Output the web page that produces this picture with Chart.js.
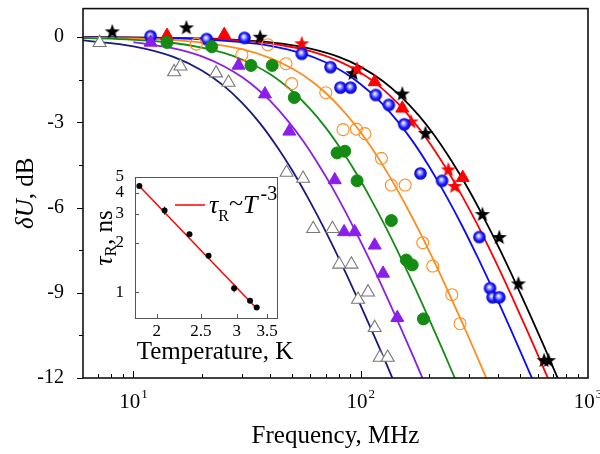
<!DOCTYPE html>
<html><head><meta charset="utf-8">
<script src="https://cdn.jsdelivr.net/npm/chart.js@4.4.1/dist/chart.umd.min.js"></script>
<style>
html,body{margin:0;padding:0;background:#fff;}
#wrap{position:relative;width:600px;height:454px;background:#fff;}
canvas{position:absolute;left:0;top:0;}
</style></head><body>
<div id="wrap"><canvas id="main" width="600" height="454"></canvas><canvas id="inset" width="600" height="454"></canvas></div>
<script>
// ---------- main chart data (frequency MHz, dB) ----------
const xTickDecades = [10, 100, 1000];
const xTickExps = ['1', '2', '3'];
const yTickValues = [-12, -9, -6, -3, 0];

const navyCurveF = [6, 10, 15, 20, 25, 30, 36, 43, 50, 60, 70, 85, 100, 115, 130, 139.5];
const navyCurveDb = [-0.12, -0.33, -0.70, -1.18, -1.72, -2.31, -3.03, -3.88, -4.70, -5.81, -6.83, -8.22, -9.45, -10.54, -11.52, -12.1];
const purpleCurveF = [10, 15, 20, 25, 30, 35, 40, 48, 56, 65, 75, 90, 110, 130, 150, 170, 188];
const purpleCurveDb = [-0.18, -0.40, -0.68, -1.03, -1.41, -1.82, -2.25, -2.97, -3.68, -4.47, -5.30, -6.48, -7.88, -9.13, -10.24, -11.23, -12.05];
const greenCurveF = [6, 10, 15, 20, 25, 30, 40, 50, 60, 70, 80, 95, 110, 130, 150, 175, 200, 230, 261];
const greenCurveDb = [-0.03, -0.10, -0.21, -0.37, -0.56, -0.79, -1.31, -1.91, -2.54, -3.18, -3.83, -4.76, -5.65, -6.75, -7.76, -8.90, -9.93, -11.03, -12.05];
const orangeCurveF = [6, 10, 15, 20, 30, 40, 50, 60, 70, 80, 92, 105, 120, 140, 160, 185, 210, 240, 280, 320, 359];
const orangeCurveDb = [-0.02, -0.05, -0.11, -0.20, -0.43, -0.74, -1.11, -1.52, -1.96, -2.42, -2.98, -3.59, -4.28, -5.17, -6.01, -6.98, -7.88, -8.88, -10.06, -11.12, -12.05];
const blueCurveF = [6, 20, 30, 40, 55, 70, 85, 100, 120, 145, 170, 200, 240, 280, 330, 390, 460, 530, 570];
const blueCurveDb = [-0.01, -0.08, -0.18, -0.31, -0.57, -0.89, -1.26, -1.66, -2.22, -2.96, -3.69, -4.56, -5.65, -6.66, -7.82, -9.06, -10.34, -11.47, -12.05];
const redCurveF = [6, 20, 30, 45, 60, 80, 100, 120, 145, 170, 200, 240, 280, 330, 390, 460, 540, 610, 670];
const redCurveDb = [-0.01, -0.06, -0.13, -0.29, -0.50, -0.85, -1.26, -1.71, -2.32, -2.95, -3.70, -4.68, -5.61, -6.68, -7.86, -9.09, -10.33, -11.30, -12.05];
const blackCurveF = [6, 20, 30, 45, 60, 80, 100, 125, 150, 180, 210, 250, 300, 350, 410, 480, 560, 640, 740];
const blackCurveDb = [0.0, -0.05, -0.11, -0.23, -0.41, -0.70, -1.05, -1.55, -2.09, -2.76, -3.44, -4.34, -5.40, -6.40, -7.49, -8.65, -9.83, -10.88, -12.05];

const openTriF = [7.1, 15.1, 16.1, 23.1, 26.2, 47.2, 55.8, 61.8, 75.1, 80.4, 91, 97.3, 107.7, 115.2, 121.2, 131.4];
const openTriDb = [-0.2, -1.23, -1.03, -1.27, -1.6, -4.77, -4.98, -6.75, -6.75, -8.0, -8.0, -9.24, -8.98, -10.23, -11.28, -11.28];
const purpleTriF = [11.9, 29.0, 37.9, 48.5, 76.9, 84.5, 94.1, 115.2, 125.4, 144.9];
const purpleTriDb = [-0.19, -1.0, -2.01, -3.32, -5.03, -6.86, -6.86, -7.33, -8.32, -9.88];
const greenDotF = [14.05, 22.1, 32.9, 40.8, 51.0, 78.7, 85.1, 96.4, 136.4, 158.7, 168.5, 188.8];
const greenDotDb = [-0.19, -0.34, -1.0, -1.0, -2.13, -4.08, -4.02, -5.06, -6.46, -7.85, -8.02, -9.92];
const orangeRingF = [18.9, 30.0, 39.0, 46.9, 49.7, 70.2, 83.6, 95.7, 104.4, 123.3, 136.4, 156.9, 187.5, 207.5, 251.5, 273.5];
const orangeRingDb = [-0.25, -0.63, -0.27, -0.94, -1.64, -1.96, -3.26, -3.24, -3.4, -4.27, -5.21, -5.21, -7.24, -8.06, -9.07, -10.09];
const blueBallF = [11.9, 21.0, 30.8, 55.0, 73.6, 81.4, 90.2, 116.4, 133.0, 155.4, 183.2, 228, 332.6, 370.6, 380.3, 407];
const blueBallDb = [0.03, -0.07, -0.03, -0.59, -1.06, -1.78, -1.78, -2.04, -2.39, -3.07, -4.8, -5.06, -7.04, -8.84, -9.16, -9.16];
const redTriF = [14.05, 25.1, 115.2, 152.4, 281];
const redTriDb = [0.05, 0.08, -1.58, -2.51, -4.95];
const redStarF = [55.0, 96.4, 166.6, 243, 259];
const redStarDb = [-0.22, -1.11, -2.97, -4.66, -5.24];
const blackStarF = [8.07, 17.1, 36.1, 92.5, 152.4, 192.7, 343, 407, 494, 641, 670];
const blackStarDb = [0.2, 0.34, 0.01, -1.27, -1.99, -3.38, -6.23, -7.04, -8.67, -11.37, -11.37];

// ---------- inset data (temperature K, tau_R ns) ----------
const insetXTicks = [2, 2.5, 3, 3.5];
const insetYTicks = [1, 2, 3, 4, 5];
const tempK = [1.83, 2.08, 2.36, 2.60, 2.96, 3.21, 3.32];
const tauNs = [4.41, 3.13, 2.25, 1.67, 1.06, 0.89, 0.81];
const tauErr = [0.05, 0.18, 0.06, 0.04, 0.06, 0.02, 0.02];
const fitT = [1.82, 3.32];
const fitTau = [4.47, 0.80];

const SERIF = '"Liberation Serif", "Times New Roman", serif';
const xy = (F, D) => F.map((f, i) => ({ x: f, y: D[i] }));

function makeStar(color, R, r) {
  const s = Math.ceil(R * 2 + 2);
  const c = document.createElement('canvas'); c.width = s; c.height = s;
  const g = c.getContext('2d'); g.fillStyle = color; g.beginPath();
  for (let i = 0; i < 10; i++) {
    const rad = (i % 2) ? r : R; const a = -Math.PI / 2 + i * Math.PI / 5;
    const px = s / 2 + rad * Math.cos(a), py = s / 2 + 0.6 + rad * Math.sin(a);
    if (i) g.lineTo(px, py); else g.moveTo(px, py);
  }
  g.closePath(); g.fill(); return c;
}
function makeBall(R) {
  const s = Math.ceil(R * 2 + 2);
  const c = document.createElement('canvas'); c.width = s; c.height = s;
  const g = c.getContext('2d');
  const cx = s / 2, cy = s / 2;
  const grd = g.createRadialGradient(cx - 1, cy - 1.5, 0.3, cx, cy, R);
  grd.addColorStop(0, '#ffffff'); grd.addColorStop(0.3, '#9a9aff');
  grd.addColorStop(0.62, '#2020ff'); grd.addColorStop(1, '#0000d0');
  g.fillStyle = grd; g.beginPath(); g.arc(cx, cy, R, 0, Math.PI * 2); g.fill();
  return c;
}
const blackStarImg = makeStar('#000000', 8, 3.3);
const redStarImg = makeStar('#ff0000', 8, 3.3);
const ballImg = makeBall(6.3);

function runsWidth(ctx, runs) { let w = 0; for (const r of runs) { ctx.font = r.font; w += ctx.measureText(r.text).width + (r.gap || 0); } return w; }
function drawRuns(ctx, x, y, runs, align) {
  const w = runsWidth(ctx, runs);
  let cx = align === 'center' ? x - w / 2 : (align === 'right' ? x - w : x);
  ctx.textBaseline = 'alphabetic'; ctx.textAlign = 'left';
  for (const r of runs) { ctx.font = r.font; cx += (r.gap || 0); ctx.fillText(r.text, cx, y + (r.dy || 0)); cx += ctx.measureText(r.text).width; }
}
function noPad(s) { s.paddingTop = 0; s.paddingBottom = 0; s.paddingLeft = 0; s.paddingRight = 0; }

const curve = (F, D, color) => ({ data: xy(F, D), showLine: true, borderColor: color, borderWidth: 1.8, pointRadius: 0, fill: false, cubicInterpolationMode: 'monotone', order: 2 });
const marks = (F, D, opts) => Object.assign({ data: xy(F, D), showLine: false, order: 1 }, opts);

const mainDecor = {
  id: 'mainDecor',
  afterDraw(chart) {
    const ctx = chart.ctx, a = chart.chartArea, xs = chart.scales.x, ys = chart.scales.y;
    ctx.save();
    ctx.strokeStyle = '#000'; ctx.lineWidth = 1;
    for (let k = 0; k < 3; k++) {
      const base = Math.pow(10, k);
      for (let m = 1; m <= 9; m++) {
        const v = m * base;
        if (v <= 6 || v > 1000) continue;
        const px = Math.round(xs.getPixelForValue(v)) + 0.5;
        const len = (m === 1) ? 7 : 4;
        ctx.beginPath(); ctx.moveTo(px, a.bottom); ctx.lineTo(px, a.bottom - len); ctx.stroke();
      }
    }
    for (const v of yTickValues) { const py = Math.round(ys.getPixelForValue(v)) + 0.5; ctx.beginPath(); ctx.moveTo(a.left, py); ctx.lineTo(a.left - 6, py); ctx.stroke(); }
    for (const v of [-10.5, -7.5, -4.5, -1.5]) { const py = Math.round(ys.getPixelForValue(v)) + 0.5; ctx.beginPath(); ctx.moveTo(a.left, py); ctx.lineTo(a.left - 4, py); ctx.stroke(); }
    ctx.lineWidth = 1.6; ctx.strokeStyle = '#111';
    ctx.strokeRect(a.left, a.top, a.right - a.left, a.bottom - a.top);
    ctx.fillStyle = '#000';
    xTickDecades.forEach((v, i) => {
      const px = xs.getPixelForValue(v);
      drawRuns(ctx, px, 408, [{ text: '10', font: '21px ' + SERIF }, { text: xTickExps[i], font: '13px ' + SERIF, dy: -10, gap: 1 }], 'center');
    });
    drawRuns(ctx, (a.left + a.right) / 2, 443, [{ text: 'Frequency, MHz', font: '25px ' + SERIF }], 'center');
    ctx.save(); ctx.translate(33, (a.top + a.bottom) / 2); ctx.rotate(-Math.PI / 2);
    drawRuns(ctx, 0, 0, [{ text: '\u03B4U', font: 'italic 25px ' + SERIF }, { text: ', dB', font: '25px ' + SERIF }], 'center');
    ctx.restore();
    ctx.restore();
  }
};

new Chart(document.getElementById('main'), {
  type: 'scatter',
  data: {
    datasets: [
      curve(navyCurveF, navyCurveDb, '#191982'),
      curve(purpleCurveF, purpleCurveDb, '#8b1ee8'),
      curve(greenCurveF, greenCurveDb, '#148c14'),
      curve(orangeCurveF, orangeCurveDb, '#ff8c1e'),
      curve(blueCurveF, blueCurveDb, '#0a0aff'),
      curve(redCurveF, redCurveDb, '#ff0000'),
      curve(blackCurveF, blackCurveDb, '#000000'),
      marks(openTriF, openTriDb, { pointStyle: 'triangle', pointRadius: 7.5, backgroundColor: '#ffffff', borderColor: '#777777', borderWidth: 1.1 }),
      marks(purpleTriF, purpleTriDb, { pointStyle: 'triangle', pointRadius: 7.5, backgroundColor: '#8b1ee8', borderColor: '#8b1ee8', borderWidth: 1 }),
      marks(greenDotF, greenDotDb, { pointStyle: 'circle', pointRadius: 6, backgroundColor: '#148c14', borderColor: '#148c14', borderWidth: 1 }),
      marks(orangeRingF, orangeRingDb, { pointStyle: 'circle', pointRadius: 6, backgroundColor: 'rgba(255,255,255,0)', borderColor: '#ff8c1e', borderWidth: 1.1 }),
      marks(blueBallF, blueBallDb, { pointStyle: ballImg, pointRadius: 7 }),
      marks(redTriF, redTriDb, { pointStyle: 'triangle', pointRadius: 7.5, backgroundColor: '#ff0000', borderColor: '#ff0000', borderWidth: 1 }),
      marks(redStarF, redStarDb, { pointStyle: redStarImg, pointRadius: 7 }),
      marks(blackStarF, blackStarDb, { pointStyle: blackStarImg, pointRadius: 7 })
    ]
  },
  options: {
    responsive: false, animation: false, devicePixelRatio: 1, events: [],
    layout: { padding: { top: 4, right: 12, left: 0, bottom: 0 } },
    plugins: { legend: { display: false }, tooltip: { enabled: false } },
    scales: {
      x: { type: 'logarithmic', min: 6, max: 1000, grid: { display: false }, border: { display: false }, ticks: { display: false }, afterFit(s) { s.height = 76; noPad(s); } },
      y: { type: 'linear', min: -12, max: 1, grid: { display: false }, border: { display: false },
        ticks: { color: '#000', font: { family: SERIF, size: 20 }, padding: 11 },
        afterBuildTicks(s) { s.ticks = yTickValues.map(v => ({ value: v })); },
        afterFit(s) { s.width = 83; noPad(s); } }
    }
  },
  plugins: [mainDecor]
});

const insetDecor = {
  id: 'insetDecor',
  beforeDatasetsDraw(chart) {
    const ctx = chart.ctx, xs = chart.scales.x, ys = chart.scales.y;
    ctx.save(); ctx.strokeStyle = '#222'; ctx.lineWidth = 1;
    tempK.forEach((t, i) => {
      const px = xs.getPixelForValue(t);
      const y1 = ys.getPixelForValue(tauNs[i] - tauErr[i]), y2 = ys.getPixelForValue(tauNs[i] + tauErr[i]);
      ctx.beginPath(); ctx.moveTo(px, y1); ctx.lineTo(px, y2); ctx.stroke();
    });
    ctx.restore();
  },
  afterDraw(chart) {
    const ctx = chart.ctx, a = chart.chartArea, xs = chart.scales.x, ys = chart.scales.y;
    ctx.save();
    ctx.strokeStyle = '#555'; ctx.lineWidth = 1;
    for (const v of insetXTicks) { const px = Math.round(xs.getPixelForValue(v)) + 0.5; ctx.beginPath(); ctx.moveTo(px, a.bottom); ctx.lineTo(px, a.bottom - 4); ctx.stroke(); }
    for (const v of insetYTicks) { const py = Math.round(ys.getPixelForValue(v)) + 0.5; ctx.beginPath(); ctx.moveTo(a.left, py); ctx.lineTo(a.left + 4, py); ctx.stroke(); }
    ctx.strokeRect(Math.round(a.left) + 0.5, Math.round(a.top) + 0.5, Math.round(a.right - a.left), Math.round(a.bottom - a.top));
    ctx.fillStyle = '#000';
    // x tick labels
    for (const v of insetXTicks) {
      drawRuns(ctx, xs.getPixelForValue(v), 336, [{ text: String(v), font: '17px ' + SERIF }], 'center');
    }
    ctx.strokeStyle = '#ff0000'; ctx.lineWidth = 1.5;
    ctx.beginPath(); ctx.moveTo(175, 205); ctx.lineTo(205, 205); ctx.stroke();
    drawRuns(ctx, 209, 213, [
      { text: '\u03C4', font: 'italic 26px ' + SERIF },
      { text: 'R', font: '16px ' + SERIF, dy: 8 },
      { text: '~', font: '26px ' + SERIF, dy: -2 },
      { text: 'T', font: 'italic 26px ' + SERIF },
      { text: '-3', font: '20px ' + SERIF, dy: -13, gap: 3 }
    ], 'left');
    drawRuns(ctx, 215, 359, [{ text: 'Temperature, K', font: '25px ' + SERIF }], 'center');
    ctx.save(); ctx.translate(112, 238); ctx.rotate(-Math.PI / 2);
    drawRuns(ctx, 0, 0, [{ text: '\u03C4', font: 'italic 26px ' + SERIF }, { text: 'R', font: '17px ' + SERIF, dy: 4 }, { text: ', ns', font: '25px ' + SERIF }], 'center');
    ctx.restore();
    ctx.restore();
  }
};

new Chart(document.getElementById('inset'), {
  type: 'scatter',
  data: {
    datasets: [
      { data: xy(fitT, fitTau), showLine: true, borderColor: '#ff0000', borderWidth: 1.5, pointRadius: 0, order: 2 },
      { data: xy(tempK, tauNs), showLine: false, pointStyle: 'circle', pointRadius: 3, backgroundColor: '#000', borderColor: '#000', borderWidth: 0, order: 1 }
    ]
  },
  options: {
    responsive: false, animation: false, devicePixelRatio: 1, events: [],
    layout: { padding: { left: 115, top: 177, right: 323, bottom: 116 } },
    plugins: { legend: { display: false }, tooltip: { enabled: false } },
    scales: {
      x: { type: 'logarithmic', min: 1.79, max: 3.68, grid: { display: false }, border: { display: false },
        ticks: { display: false },
        afterBuildTicks(s) { s.ticks = insetXTicks.map(v => ({ value: v })); },
        afterFit(s) { s.height = 20; noPad(s); } },
      y: { type: 'logarithmic', min: 0.7, max: 5, grid: { display: false }, border: { display: false },
        ticks: { color: '#000', font: { family: SERIF, size: 17 }, padding: 3, autoSkip: false, callback: v => String(v) },
        afterBuildTicks(s) { s.ticks = insetYTicks.map(v => ({ value: v })); },
        afterFit(s) { s.width = 20; noPad(s); } }
    }
  },
  plugins: [insetDecor]
});
</script>
</body></html>
